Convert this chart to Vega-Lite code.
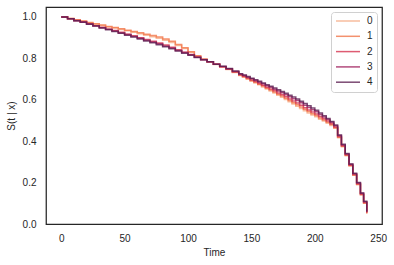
{
  "$schema": "https://vega.github.io/schema/vega-lite/v6.json",
  "width": 336,
  "height": 217,
  "autosize": "none",
  "padding": {"left": 46, "top": 7, "right": 12, "bottom": 41},
  "background": "white",
  "config": {
    "font": "Liberation Sans",
    "view": {"stroke": "#262626", "strokeWidth": 1.25},
    "axis": {
      "domain": false, "ticks": false, "grid": false,
      "labelFont": "Liberation Sans", "labelFontSize": 10, "labelColor": "#262626",
      "titleFont": "Liberation Sans", "titleFontSize": 10, "titleFontWeight": "normal", "titleColor": "#262626"
    }
  },
  "data": {"values": [
    {"t": 0, "s0": 1.000, "s1": 1.000, "s2": 1.000, "s3": 1.000, "s4": 1.000},
    {"t": 5, "s0": 0.993, "s1": 0.993, "s2": 0.991, "s3": 0.991, "s4": 0.991},
    {"t": 10, "s0": 0.985, "s1": 0.986, "s2": 0.983, "s3": 0.982, "s4": 0.982},
    {"t": 15, "s0": 0.979, "s1": 0.980, "s2": 0.975, "s3": 0.975, "s4": 0.974},
    {"t": 20, "s0": 0.972, "s1": 0.973, "s2": 0.967, "s3": 0.966, "s4": 0.965},
    {"t": 25, "s0": 0.965, "s1": 0.967, "s2": 0.958, "s3": 0.957, "s4": 0.956},
    {"t": 30, "s0": 0.959, "s1": 0.961, "s2": 0.950, "s3": 0.948, "s4": 0.947},
    {"t": 35, "s0": 0.952, "s1": 0.954, "s2": 0.941, "s3": 0.940, "s4": 0.938},
    {"t": 40, "s0": 0.946, "s1": 0.949, "s2": 0.934, "s3": 0.932, "s4": 0.930},
    {"t": 45, "s0": 0.939, "s1": 0.943, "s2": 0.926, "s3": 0.923, "s4": 0.921},
    {"t": 50, "s0": 0.933, "s1": 0.936, "s2": 0.917, "s3": 0.915, "s4": 0.912},
    {"t": 55, "s0": 0.926, "s1": 0.930, "s2": 0.909, "s3": 0.906, "s4": 0.903},
    {"t": 60, "s0": 0.919, "s1": 0.924, "s2": 0.900, "s3": 0.897, "s4": 0.894},
    {"t": 65, "s0": 0.911, "s1": 0.916, "s2": 0.891, "s3": 0.887, "s4": 0.884},
    {"t": 70, "s0": 0.904, "s1": 0.910, "s2": 0.882, "s3": 0.879, "s4": 0.875},
    {"t": 75, "s0": 0.897, "s1": 0.903, "s2": 0.874, "s3": 0.870, "s4": 0.866},
    {"t": 80, "s0": 0.888, "s1": 0.894, "s2": 0.864, "s3": 0.860, "s4": 0.856},
    {"t": 85, "s0": 0.876, "s1": 0.882, "s2": 0.854, "s3": 0.850, "s4": 0.846},
    {"t": 90, "s0": 0.862, "s1": 0.867, "s2": 0.842, "s3": 0.838, "s4": 0.835},
    {"t": 95, "s0": 0.847, "s1": 0.851, "s2": 0.830, "s3": 0.828, "s4": 0.825},
    {"t": 100, "s0": 0.829, "s1": 0.832, "s2": 0.819, "s3": 0.817, "s4": 0.815},
    {"t": 105, "s0": 0.811, "s1": 0.812, "s2": 0.806, "s3": 0.805, "s4": 0.804},
    {"t": 110, "s0": 0.796, "s1": 0.796, "s2": 0.794, "s3": 0.793, "s4": 0.793},
    {"t": 115, "s0": 0.783, "s1": 0.783, "s2": 0.783, "s3": 0.783, "s4": 0.783},
    {"t": 120, "s0": 0.770, "s1": 0.771, "s2": 0.771, "s3": 0.772, "s4": 0.772},
    {"t": 125, "s0": 0.759, "s1": 0.759, "s2": 0.760, "s3": 0.761, "s4": 0.762},
    {"t": 130, "s0": 0.746, "s1": 0.747, "s2": 0.748, "s3": 0.750, "s4": 0.751},
    {"t": 135, "s0": 0.732, "s1": 0.733, "s2": 0.735, "s3": 0.737, "s4": 0.739},
    {"t": 140, "s0": 0.717, "s1": 0.719, "s2": 0.721, "s3": 0.724, "s4": 0.726},
    {"t": 143, "s0": 0.709, "s1": 0.711, "s2": 0.713, "s3": 0.717, "s4": 0.719},
    {"t": 146, "s0": 0.700, "s1": 0.702, "s2": 0.705, "s3": 0.709, "s4": 0.712},
    {"t": 149, "s0": 0.690, "s1": 0.693, "s2": 0.696, "s3": 0.701, "s4": 0.704},
    {"t": 152, "s0": 0.681, "s1": 0.684, "s2": 0.688, "s3": 0.693, "s4": 0.697},
    {"t": 155, "s0": 0.672, "s1": 0.675, "s2": 0.679, "s3": 0.685, "s4": 0.689},
    {"t": 158, "s0": 0.662, "s1": 0.666, "s2": 0.670, "s3": 0.677, "s4": 0.681},
    {"t": 161, "s0": 0.652, "s1": 0.656, "s2": 0.661, "s3": 0.668, "s4": 0.673},
    {"t": 164, "s0": 0.642, "s1": 0.647, "s2": 0.652, "s3": 0.660, "s4": 0.665},
    {"t": 167, "s0": 0.633, "s1": 0.637, "s2": 0.643, "s3": 0.651, "s4": 0.657},
    {"t": 170, "s0": 0.622, "s1": 0.627, "s2": 0.633, "s3": 0.642, "s4": 0.648},
    {"t": 173, "s0": 0.612, "s1": 0.618, "s2": 0.624, "s3": 0.634, "s4": 0.640},
    {"t": 176, "s0": 0.601, "s1": 0.607, "s2": 0.614, "s3": 0.624, "s4": 0.631},
    {"t": 179, "s0": 0.591, "s1": 0.597, "s2": 0.604, "s3": 0.615, "s4": 0.622},
    {"t": 182, "s0": 0.580, "s1": 0.586, "s2": 0.594, "s3": 0.605, "s4": 0.613},
    {"t": 185, "s0": 0.569, "s1": 0.576, "s2": 0.584, "s3": 0.596, "s4": 0.604},
    {"t": 188, "s0": 0.558, "s1": 0.565, "s2": 0.573, "s3": 0.585, "s4": 0.593},
    {"t": 191, "s0": 0.547, "s1": 0.554, "s2": 0.562, "s3": 0.574, "s4": 0.582},
    {"t": 194, "s0": 0.536, "s1": 0.543, "s2": 0.551, "s3": 0.563, "s4": 0.571},
    {"t": 197, "s0": 0.527, "s1": 0.533, "s2": 0.541, "s3": 0.552, "s4": 0.560},
    {"t": 200, "s0": 0.518, "s1": 0.524, "s2": 0.531, "s3": 0.542, "s4": 0.549},
    {"t": 203, "s0": 0.506, "s1": 0.512, "s2": 0.519, "s3": 0.529, "s4": 0.536},
    {"t": 206, "s0": 0.497, "s1": 0.502, "s2": 0.508, "s3": 0.517, "s4": 0.523},
    {"t": 209, "s0": 0.487, "s1": 0.492, "s2": 0.497, "s3": 0.505, "s4": 0.510},
    {"t": 212, "s0": 0.476, "s1": 0.480, "s2": 0.484, "s3": 0.491, "s4": 0.495},
    {"t": 215, "s0": 0.462, "s1": 0.465, "s2": 0.469, "s3": 0.474, "s4": 0.478},
    {"t": 218, "s0": 0.416, "s1": 0.419, "s2": 0.422, "s3": 0.427, "s4": 0.430},
    {"t": 221, "s0": 0.373, "s1": 0.375, "s2": 0.378, "s3": 0.382, "s4": 0.385},
    {"t": 224, "s0": 0.330, "s1": 0.332, "s2": 0.334, "s3": 0.338, "s4": 0.340},
    {"t": 227, "s0": 0.280, "s1": 0.282, "s2": 0.284, "s3": 0.288, "s4": 0.290},
    {"t": 230, "s0": 0.235, "s1": 0.237, "s2": 0.239, "s3": 0.243, "s4": 0.245},
    {"t": 233, "s0": 0.190, "s1": 0.192, "s2": 0.194, "s3": 0.198, "s4": 0.200},
    {"t": 236, "s0": 0.140, "s1": 0.142, "s2": 0.144, "s3": 0.148, "s4": 0.150},
    {"t": 238.5, "s0": 0.100, "s1": 0.102, "s2": 0.104, "s3": 0.108, "s4": 0.110},
    {"t": 241, "s0": 0.050, "s1": 0.052, "s2": 0.054, "s3": 0.058, "s4": 0.060}
  ]},
  "transform": [
    {"fold": ["s0", "s1", "s2", "s3", "s4"], "as": ["key", "s"]},
    {"lookup": "key", "from": {"data": {"values": [
      {"key": "s0", "group": "0"}, {"key": "s1", "group": "1"}, {"key": "s2", "group": "2"},
      {"key": "s3", "group": "3"}, {"key": "s4", "group": "4"}
    ]}, "key": "key", "fields": ["group"]}}
  ],
  "mark": {"type": "line", "interpolate": "step-after", "strokeWidth": 1.5, "opacity": 0.8, "clip": true},
  "encoding": {
    "x": {"field": "t", "type": "quantitative",
      "scale": {"domain": [-12, 253], "nice": false, "zero": false},
      "axis": {"values": [0, 50, 100, 150, 200, 250], "title": "Time", "labelPadding": 9, "titlePadding": 4}},
    "y": {"field": "s", "type": "quantitative",
      "scale": {"domain": [0, 1.048], "nice": false, "zero": false},
      "axis": {"values": [0, 0.2, 0.4, 0.6, 0.8, 1.0], "format": ".1f", "title": "S(t | x)", "labelPadding": 10, "titlePadding": 6}},
    "color": {"field": "group", "type": "nominal",
      "scale": {"domain": ["0", "1", "2", "3", "4"], "range": ["#f6ac86", "#f1764a", "#d6344f", "#a0205e", "#5b1e51"]},
      "legend": {"title": null, "orient": "none", "legendX": 285, "legendY": 5,
        "symbolType": "stroke", "symbolSize": 576, "symbolStrokeWidth": 1.5, "clipHeight": 10,
        "labelFont": "Liberation Sans", "labelFontSize": 10, "labelColor": "#262626", "labelOffset": 6,
        "rowPadding": 5.3, "padding": 4, "fillColor": "white", "strokeColor": "#d0d0d0", "cornerRadius": 3}}
  }
}
